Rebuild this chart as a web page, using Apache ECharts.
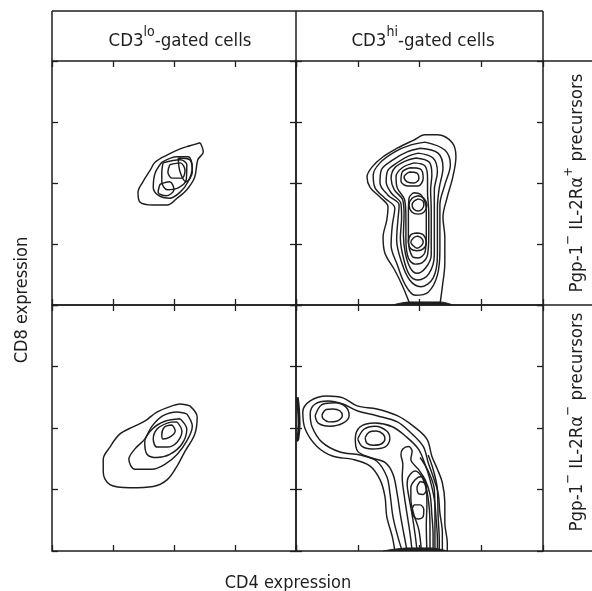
<!DOCTYPE html>
<html><head><meta charset="utf-8">
<script src="https://cdn.jsdelivr.net/npm/echarts/dist/echarts.min.js"></script>
<style>html,body{margin:0;padding:0;background:#fff}#c{width:592px;height:591px}</style>
</head><body><div id="c"></div><script>
// ---------- text / categories ----------
const colHeaderBase = ['CD3', 'CD3'];
const colHeaderSup = ['lo', 'hi'];
const colHeaderRest = ['-gated cells', '-gated cells'];
const rowLabelParts = [
  ['Pgp-1', '\u2212', 'IL-2R\u03b1', '+', 'precursors'],
  ['Pgp-1', '\u2212', 'IL-2R\u03b1', '\u2212', 'precursors']
];
const xTitle = 'CD4 expression';
const yTitle = 'CD8 expression';
// axis in log decades, ticks each decade
const axisMin = 0, axisMax = 4, axisStep = 1;

// ---------- contour data (decades CD4, decades CD8) ----------
// top-left: CD3lo, IL-2Ra+
const tlC1 = [[2.43,2.66],[2.48,2.51],[2.39,2.38],[2.34,2.10],[2.21,1.89],[2.05,1.75],[1.89,1.64],[1.66,1.64],[1.44,1.69],[1.41,1.85],[1.49,2.02],[1.61,2.21],[1.69,2.34],[1.89,2.46],[2.10,2.56],[2.26,2.61]];
const tlC2 = [[1.80,2.34],[2.05,2.43],[2.23,2.43],[2.30,2.26],[2.23,2.02],[2.10,1.85],[1.93,1.75],[1.74,1.80],[1.66,1.93],[1.69,2.16]];
const tlC3 = [[1.82,2.33],[2.10,2.38],[2.21,2.30],[2.20,2.05],[2.07,1.92],[1.89,1.89],[1.80,2.02],[1.80,2.18]];
const tlC4 = [[1.93,2.30],[2.10,2.33],[2.18,2.21],[2.13,2.08],[1.97,2.08],[1.90,2.18]];
const tlC5 = [[1.77,1.98],[1.93,2.02],[2.00,1.89],[1.87,1.79],[1.74,1.85]];
const tlC6 = [[2.07,2.41],[2.26,2.38],[2.30,2.18],[2.20,2.02],[2.10,2.18]];

// top-right: CD3hi, IL-2Ra+
const trC1 = [[1.85,0],[1.73,0.30],[1.60,0.57],[1.44,0.85],[1.41,1.11],[1.47,1.39],[1.49,1.61],[1.36,1.77],[1.20,1.93],[1.15,2.10],[1.23,2.26],[1.41,2.43],[1.64,2.57],[1.90,2.70],[2.09,2.79],[2.29,2.79],[2.53,2.66],[2.59,2.43],[2.54,2.10],[2.45,1.77],[2.38,1.44],[2.41,1.11],[2.41,0.69],[2.37,0.30],[2.33,0]];
const trC2 = [[2.09,2.67],[2.41,2.54],[2.50,2.30],[2.41,1.97],[2.33,1.64],[2.33,1.31],[2.33,0.90],[2.29,0.49],[2.14,0.21],[1.93,0.16],[1.77,0.33],[1.64,0.66],[1.54,0.98],[1.56,1.31],[1.60,1.59],[1.44,1.75],[1.28,1.92],[1.25,2.13],[1.36,2.33],[1.60,2.51],[1.85,2.62]];
const trC3 = [[2.01,2.57],[2.30,2.49],[2.38,2.25],[2.32,1.92],[2.29,1.59],[2.29,1.23],[2.29,0.82],[2.22,0.44],[2.02,0.30],[1.84,0.41],[1.71,0.70],[1.63,1.07],[1.65,1.39],[1.67,1.64],[1.49,1.80],[1.36,2.00],[1.38,2.21],[1.57,2.38],[1.80,2.51]];
const trC4 = [[1.98,2.49],[2.22,2.41],[2.29,2.18],[2.24,1.89],[2.24,1.56],[2.24,1.20],[2.24,0.82],[2.15,0.51],[1.98,0.41],[1.84,0.49],[1.74,0.77],[1.69,1.10],[1.71,1.43],[1.70,1.66],[1.54,1.84],[1.46,2.02],[1.49,2.21],[1.65,2.34],[1.82,2.44]];
const trC5 = [[1.94,2.41],[2.16,2.34],[2.20,2.13],[2.18,1.89],[2.19,1.56],[2.19,1.20],[2.19,0.82],[2.10,0.61],[1.96,0.52],[1.85,0.61],[1.77,0.85],[1.74,1.15],[1.75,1.48],[1.73,1.72],[1.59,1.89],[1.54,2.08],[1.60,2.25],[1.77,2.36]];
const trC6 = [[1.91,2.33],[2.09,2.28],[2.13,2.08],[2.13,1.85],[2.15,1.52],[2.15,1.15],[2.13,0.82],[2.04,0.69],[1.93,0.67],[1.82,0.77],[1.78,1.07],[1.78,1.43],[1.76,1.72],[1.64,1.92],[1.62,2.10],[1.72,2.25]];
const trTopPeak1 = [[1.85,2.25],[2.01,2.23],[2.06,2.08],[1.98,1.95],[1.82,1.95],[1.70,2.03],[1.72,2.18]];
const trTopPeak2 = [[1.83,2.18],[1.96,2.16],[1.99,2.07],[1.91,2.00],[1.80,2.02],[1.75,2.10]];
const trColumn = [[1.90,1.84],[2.03,1.80],[2.11,1.56],[2.11,1.15],[2.09,0.87],[1.98,0.77],[1.88,0.80],[1.82,1.07],[1.82,1.48],[1.83,1.75]];
const trMidRing = [[1.98,1.79],[2.07,1.75],[2.12,1.64],[2.07,1.52],[1.98,1.49],[1.88,1.52],[1.83,1.64],[1.88,1.75]];
const trMidHole = [[1.98,1.74],[2.06,1.70],[2.07,1.64],[2.04,1.57],[1.98,1.54],[1.91,1.57],[1.88,1.64],[1.91,1.70]];
const trLowRing = [[1.96,1.18],[2.06,1.15],[2.11,1.03],[2.06,0.92],[1.96,0.89],[1.86,0.92],[1.82,1.03],[1.86,1.15]];
const trLowHole = [[1.96,1.13],[2.03,1.10],[2.06,1.03],[2.03,0.97],[1.96,0.93],[1.90,0.97],[1.86,1.03],[1.90,1.10]];
const trBase = [[1.57,0],[1.69,0.03],[1.85,0.05],[2.09,0.05],[2.33,0.05],[2.54,0]];

// bottom-left: CD3lo, IL-2Ra-
const blC1 = [[2.26,2.36],[2.38,2.18],[2.34,1.90],[2.18,1.62],[2.05,1.38],[1.89,1.16],[1.66,1.05],[1.28,1.03],[0.95,1.08],[0.84,1.28],[0.84,1.49],[0.95,1.69],[1.11,1.90],[1.33,2.02],[1.52,2.11],[1.72,2.26],[1.97,2.36],[2.10,2.39]];
const blC2 = [[2.21,2.23],[2.30,2.03],[2.21,1.79],[2.05,1.57],[1.85,1.41],[1.64,1.33],[1.36,1.33],[1.26,1.49],[1.36,1.66],[1.52,1.82],[1.64,2.03],[1.82,2.20],[2.05,2.26]];
const blC3 = [[2.10,2.15],[2.21,1.98],[2.13,1.74],[1.93,1.57],[1.72,1.52],[1.56,1.57],[1.52,1.77],[1.64,1.98],[1.85,2.11]];
const blC4 = [[2.05,2.10],[2.13,1.95],[2.05,1.77],[1.89,1.69],[1.72,1.69],[1.66,1.82],[1.72,1.98],[1.89,2.08]];
const blC5 = [[1.97,2.05],[2.02,1.95],[1.93,1.85],[1.82,1.82],[1.80,1.90],[1.85,2.02]];

// bottom-right: CD3hi, IL-2Ra-
const brC1 = [[1.60,0],[1.56,0.23],[1.47,0.56],[1.44,0.89],[1.36,1.16],[1.20,1.38],[0.92,1.49],[0.60,1.54],[0.34,1.70],[0.15,1.98],[0.11,2.26],[0.23,2.44],[0.50,2.52],[0.76,2.49],[0.99,2.36],[1.31,2.31],[1.64,2.20],[1.90,2.03],[2.12,1.82],[2.20,1.54],[2.29,1.33],[2.37,1.11],[2.41,0.79],[2.41,0.46],[2.45,0.13],[2.45,0]];
const brC2 = [[1.72,0],[1.65,0.23],[1.57,0.56],[1.52,0.95],[1.47,1.21],[1.31,1.46],[1.04,1.56],[0.71,1.61],[0.42,1.77],[0.26,2.02],[0.23,2.23],[0.31,2.39],[0.52,2.44],[0.76,2.39],[0.99,2.28],[1.31,2.20],[1.64,2.10],[1.85,1.93],[2.06,1.70],[2.14,1.44],[2.22,1.21],[2.30,0.95],[2.33,0.62],[2.37,0.30],[2.37,0]];
const brC3 = [[1.80,0],[1.75,0.26],[1.69,0.59],[1.64,0.92],[1.57,1.25],[1.44,1.44],[1.20,1.52],[1.00,1.62],[0.96,1.82],[1.04,2.02],[1.28,2.08],[1.56,2.02],[1.77,1.87],[1.98,1.66],[2.09,1.41],[2.17,1.16],[2.24,0.84],[2.27,0.51],[2.29,0.18],[2.29,0]];
const brLobe1Ring = [[0.31,2.20],[0.42,2.38],[0.63,2.41],[0.81,2.34],[0.86,2.20],[0.76,2.08],[0.55,2.03],[0.36,2.08]];
const brLobe1Core = [[0.42,2.21],[0.49,2.30],[0.60,2.31],[0.71,2.28],[0.75,2.20],[0.66,2.11],[0.53,2.10],[0.44,2.15]];
const brLobe2Ring = [[1.00,1.82],[1.10,1.98],[1.28,2.03],[1.47,1.95],[1.52,1.82],[1.44,1.69],[1.23,1.66],[1.07,1.70]];
const brLobe2Core = [[1.12,1.84],[1.18,1.93],[1.30,1.95],[1.41,1.90],[1.44,1.82],[1.38,1.74],[1.25,1.72],[1.15,1.75]];
const brC4 = [[1.88,0],[1.85,0.26],[1.80,0.59],[1.75,0.92],[1.72,1.20],[1.73,1.41],[1.70,1.57],[1.73,1.66],[1.82,1.70],[1.88,1.62],[1.86,1.49],[1.98,1.33],[2.09,1.16],[2.17,0.92],[2.20,0.59],[2.22,0.26],[2.22,0]];
const brC5 = [[1.96,0],[1.93,0.26],[1.88,0.59],[1.83,0.87],[1.80,1.08],[1.82,1.20],[1.93,1.30],[2.04,1.20],[2.12,0.97],[2.16,0.67],[2.17,0.34],[2.17,0]];
const brC6 = [[2.03,0],[1.99,0.34],[1.91,0.59],[1.86,0.84],[1.86,1.03],[1.93,1.16],[2.03,1.21],[2.11,1.05],[2.12,0.75],[2.11,0.43],[2.12,0]];
const brPeak1 = [[2.01,1.13],[2.09,1.10],[2.11,1.00],[2.06,0.92],[1.99,0.93],[1.96,1.03]];
const brPeak2 = [[1.91,0.75],[2.01,0.75],[2.07,0.67],[2.06,0.56],[1.98,0.52],[1.90,0.57],[1.88,0.67]];
const brD1 = [[2.14,1.56],[2.22,1.33],[2.29,1.00],[2.30,0.59],[2.32,0.18],[2.32,0]];
const brD2 = [[2.01,1.52],[2.14,1.30],[2.24,1.00],[2.25,0.59],[2.25,0]];
const brBase = [[1.41,0],[1.60,0.03],[1.85,0.05],[2.17,0.05],[2.45,0]];
const brAxisSliver = [[0.02,2.50],[0.04,2.31],[0.05,2.07],[0.03,1.82],[0.01,1.79]];

// ---------- rendering ----------
const INK = '#1e1e1e';
const FONT = '"DejaVu Sans Condensed", "DejaVu Sans", sans-serif';
const chart = echarts.init(document.getElementById('c'), null, {renderer: 'canvas'});

const grids = [
  {left: 52, top: 61, width: 244, height: 244},
  {left: 296, top: 61, width: 247, height: 244},
  {left: 52, top: 305, width: 244, height: 246},
  {left: 296, top: 305, width: 247, height: 246}
].map(g => Object.assign({show: true, borderColor: INK, borderWidth: 1.5, backgroundColor: 'transparent', containLabel: false, outerBoundsMode: 'none'}, g));

function mkAxis(gi, pos) {
  return {type: 'value', gridIndex: gi, position: pos, min: axisMin, max: axisMax, interval: axisStep,
    axisLine: {show: false, onZero: false}, axisLabel: {show: false}, splitLine: {show: false},
    axisTick: {show: true, inside: false, length: -6, lineStyle: {color: INK, width: 1.3}}};
}
const xAxes = [], yAxes = [];
for (let i = 0; i < 4; i++) {
  xAxes.push(mkAxis(i, 'bottom'), mkAxis(i, 'top'));
  yAxes.push(mkAxis(i, 'left'), mkAxis(i, 'right'));
}

const series = [];
function contour(data, gi, closed, width) {
  series.push({type: 'line', xAxisIndex: gi * 2, yAxisIndex: gi * 2,
    data: closed ? data.concat([data[0]]) : data,
    smooth: 0.35, symbol: 'none', silent: true, animation: false, z: 3,
    lineStyle: {color: INK, width: width || 1.45}});
}
function mound(data, gi) {
  series.push({type: 'line', xAxisIndex: gi * 2, yAxisIndex: gi * 2, data: data,
    smooth: 0.4, symbol: 'none', silent: true, animation: false, z: 3,
    lineStyle: {color: INK, width: 1}, areaStyle: {color: INK, opacity: 1}});
}

[tlC1, tlC2, tlC3, tlC4, tlC5, tlC6].forEach(d => contour(d, 0, true));
contour(trC1, 1, false);
[trC2, trC3, trC4, trC5, trC6, trTopPeak1, trTopPeak2, trColumn, trMidRing, trMidHole, trLowRing, trLowHole].forEach(d => contour(d, 1, true));
mound(trBase, 1);
[blC1, blC2, blC3, blC4, blC5].forEach(d => contour(d, 2, true));
[brC1, brC2, brC3, brC4, brC5, brC6, brD1, brD2].forEach(d => contour(d, 3, false));
[brLobe1Ring, brLobe1Core, brLobe2Ring, brLobe2Core, brPeak1, brPeak2].forEach(d => contour(d, 3, true));
mound(brBase, 3);
contour(brAxisSliver, 3, false, 3);

function line(x1, y1, x2, y2) {
  return {type: 'line', silent: true, shape: {x1, y1, x2, y2}, style: {stroke: INK, lineWidth: 1.5}};
}
function richText(x, y, text, rot, mainSize, supSize) {
  return {type: 'text', x, y, rotation: rot || 0, silent: true,
    style: {text, align: 'center', verticalAlign: 'middle', textAlign: 'center', textVerticalAlign: 'middle',
      font: mainSize + 'px ' + FONT, fill: INK,
      rich: {
        m: {fontSize: mainSize, fontFamily: FONT, lineHeight: mainSize + 6, verticalAlign: 'bottom', fill: INK, color: INK},
        s: {fontSize: supSize || 13, fontFamily: FONT, lineHeight: supSize || 13, verticalAlign: 'top', fill: INK, color: INK}
      }}};
}
const graphics = [
  line(52, 11, 543, 11), line(52, 11, 52, 61), line(296, 11, 296, 61), line(543, 11, 543, 61),
  line(543, 61, 592, 61), line(543, 305, 592, 305), line(543, 551, 592, 551)
];
const headerX = [180, 423];
for (let i = 0; i < 2; i++) {
  graphics.push(richText(headerX[i], 38, '{m|' + colHeaderBase[i] + '}{s|' + colHeaderSup[i] + '}{m|' + colHeaderRest[i] + '}', 0, 18.5, 14));
}
const rowY = [183, 422];
for (let i = 0; i < 2; i++) {
  const p = rowLabelParts[i];
  graphics.push(richText(574, rowY[i], '{m|' + p[0] + '}{s|' + p[1] + '}{m| ' + p[2] + '}{s|' + p[3] + '}{m| ' + p[4] + '}', Math.PI / 2, 18.5, 13));
}
graphics.push(richText(19, 300, '{m|' + yTitle + '}', Math.PI / 2, 18));
graphics.push(richText(288, 580, '{m|' + xTitle + '}', 0, 18));

chart.setOption({
  animation: false,
  backgroundColor: '#ffffff',
  grid: grids,
  xAxis: xAxes,
  yAxis: yAxes,
  series: series,
  graphic: {elements: graphics}
});
</script></body></html>
